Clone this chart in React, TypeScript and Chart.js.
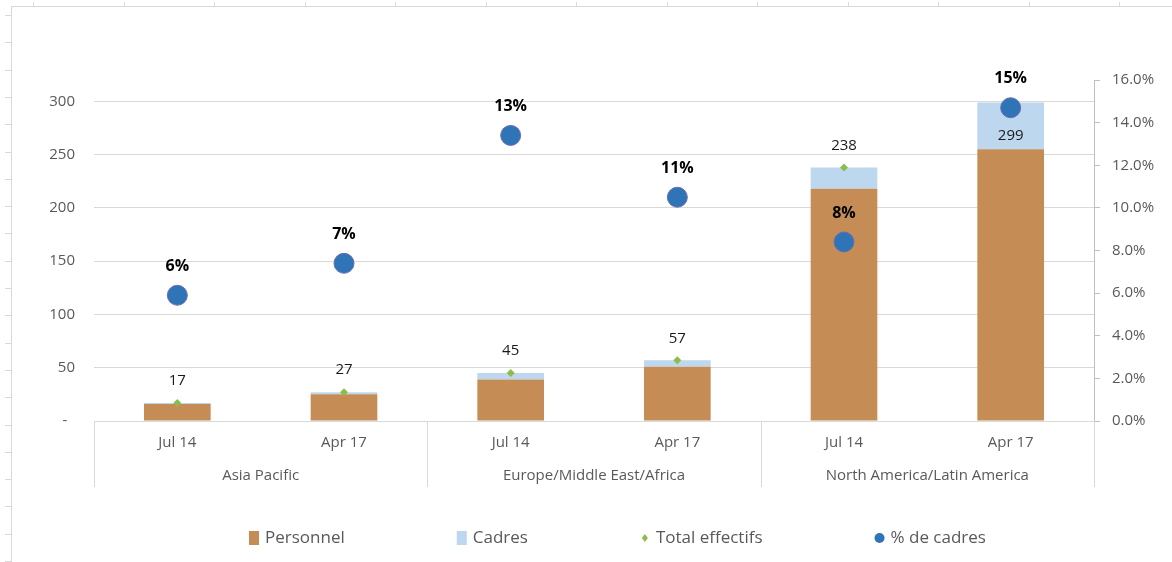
import React, { useEffect, useRef } from 'react';
import { Chart, registerables } from 'chart.js';

Chart.register(...registerables);

// ---------- data ----------
const groups = ['Asia Pacific', 'Europe/Middle East/Africa', 'North America/Latin America'];
const categories = ['Jul 14', 'Apr 17', 'Jul 14', 'Apr 17', 'Jul 14', 'Apr 17'];
const personnel = [16, 25, 39, 51, 218, 255];
const cadres = [1, 2, 6, 6, 20, 44];
const totalEffectifs = [17, 27, 45, 57, 238, 299];
const pctCadres = [0.059, 0.074, 0.134, 0.105, 0.084, 0.147];

const FONT = "'Open Sans', 'Noto Sans', sans-serif";
const GRID = '#d9d9d9';
const AXIS_TEXT = '#595959';

const COLORS = {
  personnel: '#C58D55',
  cadres: '#BDD7EE',
  total: '#8CBD4A',
  pct: '#2E74B6',
  pctBorder: '#6A6DB0',
};

// ---------- plugins ----------
const framePlugin = {
  id: 'frame',
  beforeDraw(chart: any) {
    const ctx = chart.ctx;
    ctx.save();
    ctx.strokeStyle = GRID;
    ctx.lineWidth = 1;
    ctx.beginPath();
    ctx.moveTo(11.5, 6);
    ctx.lineTo(11.5, chart.height);
    ctx.moveTo(11, 6.5);
    ctx.lineTo(chart.width, 6.5);
    for (let y = 15; y < chart.height; y += 27.3) {
      const yy = Math.round(y) + 0.5;
      ctx.moveTo(5, yy);
      ctx.lineTo(11, yy);
    }
    for (let x = 33; x < chart.width; x += 90.5) {
      const xx = Math.round(x) + 0.5;
      ctx.moveTo(xx, 2);
      ctx.lineTo(xx, 6);
    }
    ctx.stroke();
    ctx.restore();
  },
};

const separatorsPlugin = {
  id: 'separators',
  afterDraw(chart: any) {
    const xs = chart.scales.x;
    const x2 = chart.scales.x2;
    const ctx = chart.ctx;
    const n = categories.length;
    const cw = (xs.right - xs.left) / n;
    const per = n / groups.length;
    ctx.save();
    ctx.strokeStyle = GRID;
    ctx.lineWidth = 1;
    ctx.beginPath();
    for (let g = 0; g <= groups.length; g++) {
      const px = Math.round(xs.left + g * per * cw) + 0.5;
      ctx.moveTo(px, chart.chartArea.bottom);
      ctx.lineTo(px, x2.bottom);
    }
    ctx.stroke();
    ctx.restore();
  },
};

const labelsPlugin = {
  id: 'valueLabels',
  afterDatasetsDraw(chart: any, _args: any, opts: any) {
    const ctx = chart.ctx;
    ctx.save();
    ctx.textAlign = 'center';
    ctx.textBaseline = 'middle';
    // totals
    const metaT = chart.getDatasetMeta(2);
    ctx.font = `15px ${FONT}`;
    ctx.fillStyle = '#1a1a1a';
    metaT.data.forEach((pt: any, i: number) => {
      const below = (opts.totalBelow || []).includes(i);
      ctx.fillText(String(totalEffectifs[i]), pt.x, below ? pt.y + 33 : pt.y - 22);
    });
    // percentages
    const metaP = chart.getDatasetMeta(3);
    ctx.font = `bold 16px ${FONT}`;
    ctx.fillStyle = '#000000';
    metaP.data.forEach((pt: any, i: number) => {
      ctx.fillText(Math.round(pctCadres[i] * 100) + '%', pt.x, pt.y - 29);
    });
    ctx.restore();
  },
};

const legendPlugin = {
  id: 'customLegend',
  afterDraw(chart: any, _args: any, opts: any) {
    const ctx = chart.ctx;
    ctx.save();
    ctx.font = `17px ${FONT}`;
    ctx.textBaseline = 'middle';
    ctx.textAlign = 'left';
    let x = opts.startX;
    const y = opts.y;
    chart.data.datasets.forEach((ds: any) => {
      if (ds.type === 'bar') {
        ctx.fillStyle = ds.backgroundColor;
        ctx.fillRect(x, y - 7, 10, 14);
      } else if (ds.pointStyle === 'rectRot') {
        ctx.fillStyle = ds.backgroundColor;
        ctx.beginPath();
        ctx.moveTo(x + 5, y - 4);
        ctx.lineTo(x + 8, y);
        ctx.lineTo(x + 5, y + 4);
        ctx.lineTo(x + 2, y);
        ctx.closePath();
        ctx.fill();
      } else {
        ctx.fillStyle = ds.backgroundColor;
        ctx.beginPath();
        ctx.arc(x + 5, y, 5, 0, Math.PI * 2);
        ctx.fill();
      }
      x += 16;
      ctx.fillStyle = AXIS_TEXT;
      ctx.fillText(ds.label, x, y);
      x += ctx.measureText(ds.label).width + opts.gap;
    });
    ctx.restore();
  },
};

export default function App() {
  const ref = useRef<HTMLCanvasElement | null>(null);

  useEffect(() => {
    if (!ref.current) return;
    const chart = new Chart(ref.current, {
      type: 'bar',
      data: {
        labels: categories,
        datasets: [
          {
            type: 'bar',
            label: 'Personnel',
            data: personnel,
            backgroundColor: COLORS.personnel,
            stack: 'staff',
            order: 2,
            barPercentage: 1,
            categoryPercentage: 0.4,
            xAxisID: 'x',
            yAxisID: 'y',
          },
          {
            type: 'bar',
            label: 'Cadres',
            data: cadres,
            backgroundColor: COLORS.cadres,
            stack: 'staff',
            order: 2,
            barPercentage: 1,
            categoryPercentage: 0.4,
            xAxisID: 'x',
            yAxisID: 'y',
          },
          {
            type: 'line',
            label: 'Total effectifs',
            data: totalEffectifs,
            showLine: false,
            stack: 'totals',
            pointStyle: 'rectRot',
            pointRadius: 4,
            backgroundColor: COLORS.total,
            borderColor: COLORS.total,
            borderWidth: 0,
            order: 1,
            xAxisID: 'x',
            yAxisID: 'y',
          },
          {
            type: 'line',
            label: '% de cadres',
            data: pctCadres,
            showLine: false,
            pointStyle: 'circle',
            pointRadius: 10,
            backgroundColor: COLORS.pct,
            borderColor: COLORS.pctBorder,
            borderWidth: 1,
            order: 0,
            xAxisID: 'x',
            yAxisID: 'y1',
          },
        ] as any,
      },
      options: {
        responsive: false,
        animation: false,
        events: [],
        layout: { padding: { top: 80, bottom: 75, left: 0, right: 0 } },
        scales: {
          x: {
            type: 'category',
            position: 'bottom',
            stacked: true,
            offset: true,
            weight: 0,
            grid: { display: false, drawTicks: false },
            border: { display: false },
            ticks: { color: AXIS_TEXT, font: { family: FONT, size: 15 }, padding: 13, maxRotation: 0, autoSkip: false },
            afterFit: (s: any) => { s.height = 33; },
          },
          x2: {
            type: 'category',
            position: 'bottom',
            labels: groups,
            offset: true,
            weight: 1,
            grid: { display: false, drawTicks: false },
            border: { display: false },
            ticks: { color: AXIS_TEXT, font: { family: FONT, size: 15 }, padding: 13, maxRotation: 0, autoSkip: false },
            afterFit: (s: any) => { s.height = 33; },
          },
          y: {
            type: 'linear',
            position: 'left',
            stacked: true,
            min: 0,
            max: 320,
            grid: { color: GRID, drawTicks: false, lineWidth: 1 },
            border: { display: false },
            ticks: {
              stepSize: 50,
              color: AXIS_TEXT,
              font: { family: FONT, size: 15 },
              padding: 19,
              callback: (v: any) => (v === 0 ? '-  ' : String(v)),
            },
            afterBuildTicks: (s: any) => { s.ticks = s.ticks.filter((t: any) => t.value <= 300); },
            afterFit: (s: any) => { s.width = 94; },
          },
          y1: {
            type: 'linear',
            position: 'right',
            min: 0,
            max: 0.16,
            grid: { drawOnChartArea: false, drawTicks: true, tickLength: 6, color: '#bfbfbf' },
            border: { display: true, color: '#bfbfbf' },
            ticks: {
              stepSize: 0.02,
              color: AXIS_TEXT,
              font: { family: FONT, size: 15 },
              padding: 12,
              callback: (v: any) => (Number(v) * 100).toFixed(1) + '%',
            },
            afterFit: (s: any) => { s.width = 78; },
          },
        },
        plugins: {
          legend: { display: false },
          tooltip: { enabled: false },
          valueLabels: { totalBelow: [5] },
          customLegend: { startX: 249, y: 538, gap: 112 },
        } as any,
      },
      plugins: [framePlugin, separatorsPlugin, labelsPlugin, legendPlugin],
    });
    return () => chart.destroy();
  }, []);

  return (
    <div style={{ position: 'fixed', left: 0, top: 0, width: 1172, height: 562, background: '#fff' }}>
      <canvas ref={ref} width={1172} height={562} style={{ display: 'block' }} />
    </div>
  );
}
